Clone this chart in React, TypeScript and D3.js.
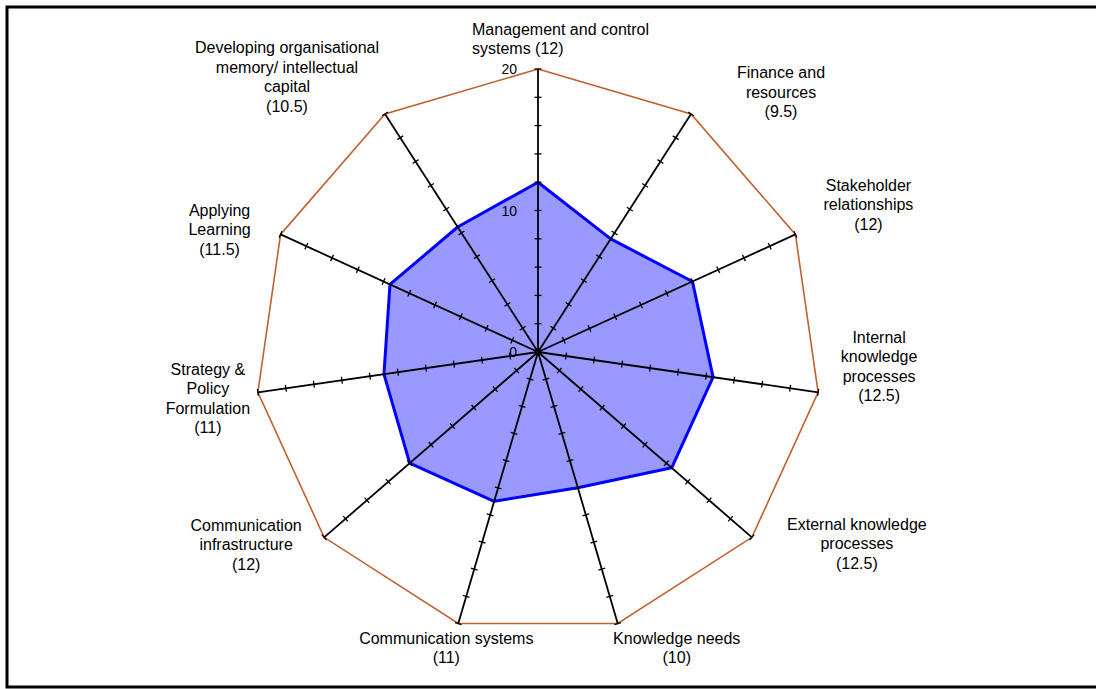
import React from "react";
import { lineRadial, curveLinearClosed, scaleLinear } from "d3";

// category names, already broken the way the chart wraps them
const categories: string[][] = [
  ["Management and control", "systems"],
  ["Finance and", "resources"],
  ["Stakeholder", "relationships"],
  ["Internal", "knowledge", "processes"],
  ["External knowledge", "processes"],
  ["Knowledge needs"],
  ["Communication systems"],
  ["Communication", "infrastructure"],
  ["Strategy &", "Policy", "Formulation"],
  ["Applying", "Learning"],
  ["Developing organisational", "memory/ intellectual", "capital"],
];
const values = [12, 9.5, 12, 12.5, 12.5, 10, 11, 12, 11, 11.5, 10.5];
// value printed on the same line as the name (only the first label does this)
const inlineValue = [true, false, false, false, false, false, false, false, false, false, false];
const axisLabels = [0, 10, 20];
const maxValue = 20;

// label block placement relative to the end of each axis
const labelOffsets: { dx: number; dy: number; anchor: string }[] = [
  { dx: -66, dy: -30.5, anchor: "start" },
  { dx: 90, dy: -22, anchor: "middle" },
  { dx: 73, dy: -30, anchor: "middle" },
  { dx: 61, dy: -26, anchor: "middle" },
  { dx: 105, dy: 6, anchor: "middle" },
  { dx: 59, dy: 24, anchor: "middle" },
  { dx: -12, dy: 24, anchor: "middle" },
  { dx: -78, dy: 7, anchor: "middle" },
  { dx: -50, dy: 6, anchor: "middle" },
  { dx: -61, dy: -5, anchor: "middle" },
  { dx: -98, dy: -37, anchor: "middle" },
];

const W = 1096;
const H = 689;
const cx = 538;
const cy = 352;
const radius = 283;
const lineH = 19.5;

export default function App() {
  const n = categories.length;
  const angleSlice = (Math.PI * 2) / n;
  const rScale = scaleLinear().domain([0, maxValue]).range([0, radius]);
  const ticks = rScale.ticks(10);

  const radar = lineRadial<number>()
    .radius((d) => rScale(d))
    .angle((d, i) => i * angleSlice)
    .curve(curveLinearClosed);

  const outerPath = radar(values.map(() => maxValue)) ?? "";
  const dataPath = radar(values) ?? "";

  return (
    <svg
      width={W}
      height={H}
      style={{ position: "absolute", left: 0, top: 0, background: "#fff" }}
      fontFamily="'Liberation Sans', Arial, sans-serif"
    >
      <rect x={7} y={7} width={W + 10} height={680} fill="none" stroke="#000" strokeWidth={3} />

      <g transform={`translate(${cx}, ${cy})`}>
        {/* outer ring at the max value */}
        <path d={outerPath} fill="none" stroke="#c0602e" strokeWidth={1.6} />

        {/* data area */}
        <path d={dataPath} fill="#9999ff" stroke="#0000ff" strokeWidth={3} strokeLinejoin="round" />

        {/* axes with cross ticks */}
        {values.map((_, i) => (
          <g key={i} transform={`rotate(${(i * angleSlice * 180) / Math.PI})`}>
            <line x1={0} y1={0} x2={0} y2={-rScale(maxValue)} stroke="#000" strokeWidth={1.8} />
            {ticks.map((t) => (
              <line key={t} x1={-3.5} x2={3.5} y1={-rScale(t)} y2={-rScale(t)} stroke="#000" strokeWidth={1.3} />
            ))}
          </g>
        ))}

        {/* value labels on the first axis */}
        {axisLabels.map((t) => (
          <text key={t} x={-21} y={-rScale(t)} dy="0.36em" textAnchor="end" fontSize={14} fill="#000">
            {t}
          </text>
        ))}

        {/* category labels */}
        {categories.map((lines, i) => {
          const a = i * angleSlice;
          const ex = rScale(maxValue) * Math.sin(a);
          const ey = -rScale(maxValue) * Math.cos(a);
          const txt = inlineValue[i]
            ? [...lines.slice(0, -1), `${lines[lines.length - 1]} (${values[i]})`]
            : [...lines, `(${values[i]})`];
          const off = labelOffsets[i];
          const y0 = ey + off.dy - ((txt.length - 1) * lineH) / 2;
          return (
            <text key={i} fontSize={16} fill="#000" textAnchor={off.anchor}>
              {txt.map((s, j) => (
                <tspan key={j} x={ex + off.dx} y={y0 + j * lineH} dy="0.36em">
                  {s}
                </tspan>
              ))}
            </text>
          );
        })}
      </g>
    </svg>
  );
}
